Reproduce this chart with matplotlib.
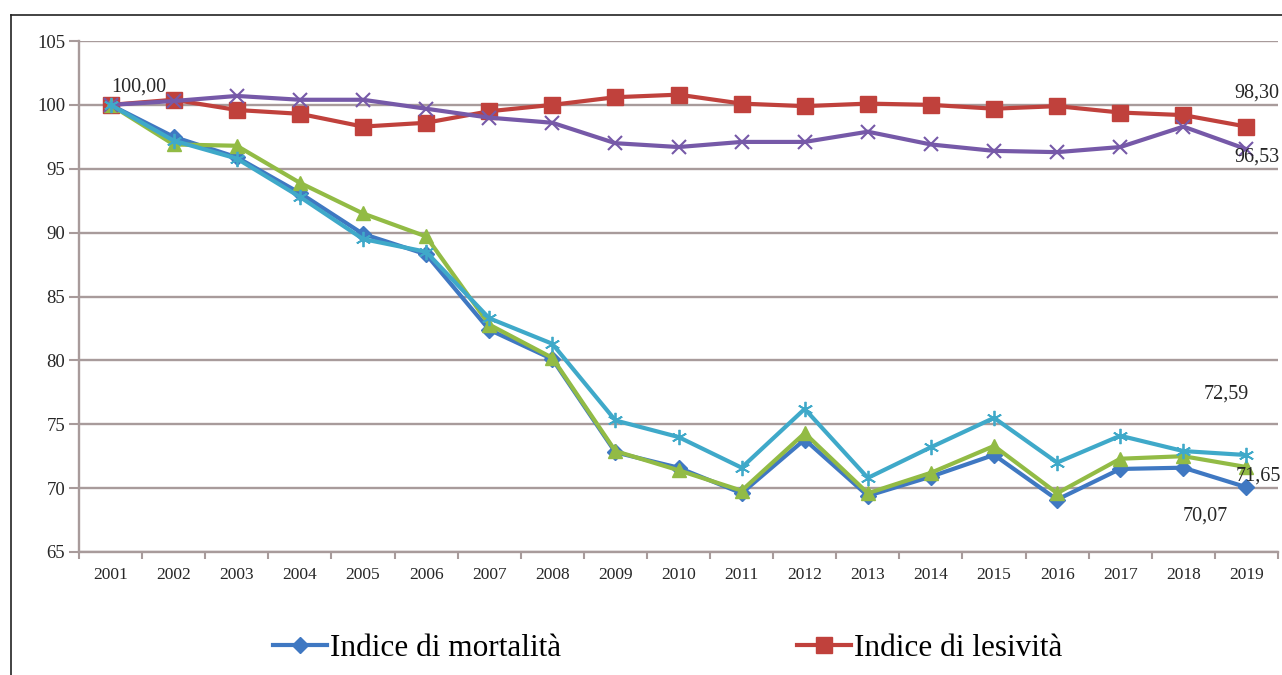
import matplotlib
matplotlib.use("Agg")
import matplotlib.pyplot as plt
from matplotlib.lines import Line2D
import numpy as np

years = ["2001", "2002", "2003", "2004", "2005", "2006", "2007", "2008", "2009", "2010",
         "2011", "2012", "2013", "2014", "2015", "2016", "2017", "2018", "2019"]

mortalita = [100.0, 97.5, 95.9, 93.1, 89.9, 88.3, 82.4, 80.1, 72.8, 71.6,
             69.6, 73.8, 69.4, 70.9, 72.6, 69.1, 71.5, 71.6, 70.07]
lesivita = [100.0, 100.4, 99.6, 99.3, 98.3, 98.6, 99.5, 100.0, 100.6, 100.8,
            100.1, 99.9, 100.1, 100.0, 99.7, 99.9, 99.4, 99.2, 98.30]
serie_verde = [100.0, 96.9, 96.8, 93.9, 91.5, 89.7, 82.8, 80.2, 72.9, 71.4,
               69.8, 74.3, 69.6, 71.2, 73.3, 69.6, 72.3, 72.5, 71.65]
serie_viola = [100.0, 100.3, 100.7, 100.4, 100.4, 99.7, 99.0, 98.6, 97.0, 96.7,
               97.1, 97.1, 97.9, 96.9, 96.4, 96.3, 96.7, 98.3, 96.53]
serie_azzurra = [100.0, 97.2, 95.8, 92.8, 89.5, 88.5, 83.3, 81.3, 75.3, 74.0,
                 71.6, 76.2, 70.8, 73.2, 75.5, 72.0, 74.1, 72.9, 72.59]

legend_labels = ["Indice di mortalità", "Indice di lesività"]
yticks = [65, 70, 75, 80, 85, 90, 95, 100, 105]

SERIF = ["Liberation Serif", "DejaVu Serif"]
plt.rcParams["font.family"] = SERIF

W, H = 1282, 675
fig = plt.figure(figsize=(W / 100, H / 100), dpi=100)
fig.patch.set_facecolor("white")

ax_l, ax_r, ax_t, ax_b = 79, 1278, 41, 552
ax = fig.add_axes([ax_l / W, 1 - ax_b / H, (ax_r - ax_l) / W, (ax_b - ax_t) / H])

x = np.arange(len(years))
gridc = "#a89b9b"
txtc = "#262626"

c_blue = "#3f78c2"
c_red = "#c0413c"
c_green = "#92bb45"
c_purple = "#7659a8"
c_cyan = "#3fa9c9"

lw = 3.0
ax.plot(x, mortalita, color=c_blue, lw=lw, marker="D", ms=8, mfc=c_blue, mec=c_blue, zorder=3)
ax.plot(x, lesivita, color=c_red, lw=lw, marker="s", ms=11.5, mfc=c_red, mec=c_red, zorder=4)
ax.plot(x, serie_verde, color=c_green, lw=lw, marker="^", ms=10, mfc=c_green, mec=c_green, zorder=5)
ax.plot(x, serie_viola, color=c_purple, lw=lw, marker="x", ms=10, mew=1.5, mec=c_purple, zorder=6)
ax.plot(x, serie_azzurra, color=c_cyan, lw=lw, marker=(6, 2, 0), ms=11, mew=1.3, mec=c_cyan, zorder=7)

ax.set_xlim(-0.5, len(years) - 0.5)
ax.set_ylim(65, 105)
ax.set_yticks(yticks)
ax.set_yticklabels([str(v) for v in yticks], fontsize=13.5, color=txtc)
ax.set_xticks(x)
ax.set_xticklabels(years, fontsize=12.5, color=txtc)
ax.set_xticks(np.arange(-0.5, len(years), 1.0), minor=True)
ax.tick_params(axis="x", which="major", length=0, pad=11)
ax.tick_params(axis="x", which="minor", length=5, width=1.5, color=gridc)
ax.tick_params(axis="y", length=7, width=1.5, color=gridc, pad=3)

ax.grid(axis="y", color=gridc, lw=1.7, zorder=0)
ax.set_axisbelow(True)
for s in ["top", "right"]:
    ax.spines[s].set_visible(False)
for s in ["left", "bottom"]:
    ax.spines[s].set_color(gridc)
    ax.spines[s].set_linewidth(1.7)

# data labels (px offsets converted to points)
def lab(xi, yi, txt, dx, dy, ha="center"):
    ax.annotate(txt, (xi, yi), xytext=(dx * 0.72, dy * 0.72), textcoords="offset points",
                ha=ha, va="center", fontsize=14.5, color=txtc, zorder=10)

n = len(years) - 1
lab(0, mortalita[0], "100,00", 28, 18)
lab(n, lesivita[n], "98,30", 10, 34)
lab(n, serie_viola[n], "96,53", 10, -8)
lab(n, serie_azzurra[n], "72,59", -20, 61)
lab(n, serie_verde[n], "71,65", 12, -9)
lab(n, mortalita[n], "70,07", -41, -29)

# legend
h1 = Line2D([], [], color=c_blue, lw=lw, marker="D", ms=8)
h2 = Line2D([], [], color=c_red, lw=lw, marker="s", ms=11)
fig.legend([h1, h2], legend_labels, loc="center left", bbox_to_anchor=(273 / W, 1 - 648 / H),
           ncol=2, frameon=False, fontsize=22.5, handlelength=1.72, handletextpad=0.1,
           columnspacing=7.55, borderpad=0, borderaxespad=0)

# outer frame (left and top only, cropped image)
fig.add_artist(Line2D([11 / W, 11 / W], [0, 1 - 15 / H], color="#222222", lw=1.2, transform=fig.transFigure))
fig.add_artist(Line2D([11 / W, 1], [1 - 15 / H, 1 - 15 / H], color="#222222", lw=1.2, transform=fig.transFigure))

fig.savefig("out.png", dpi=100, facecolor="white")
